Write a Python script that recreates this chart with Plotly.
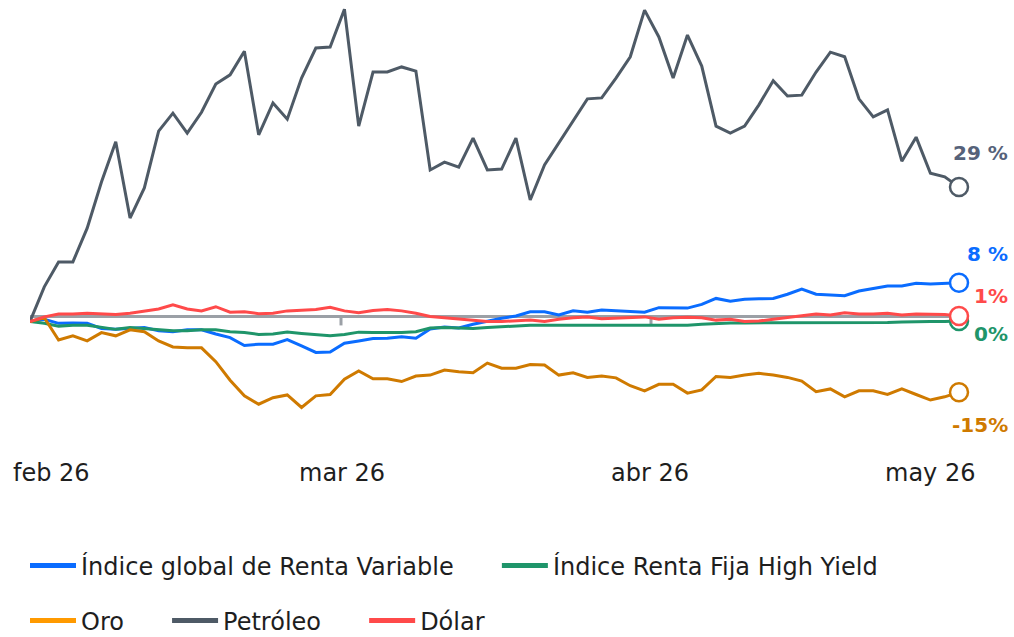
import pandas as pd
import plotly.graph_objects as go

# ---- data (percent change since start) ----
dates = [d.strftime("%Y-%m-%d") for d in pd.bdate_range("2026-01-30", "2026-05-01")]

renta_variable = [0, 0.5, -0.4, -0.3, -0.4, -1.5, -1.7, -1.5, -1.3, -2.0, -2.2, -1.8, -1.8, -2.7, -3.5,
                  -5.2, -4.9, -4.9, -3.9, -5.3, -6.7, -6.6, -4.7, -4.2, -3.7, -3.6, -3.3, -3.6, -1.6, -1.2,
                  -1.4, -0.6, 0.1, 0.7, 1.2, 2.1, 2.1, 1.4, 2.3, 2.0, 2.5, 2.3, 2.1, 2.0, 3.0, 2.9, 2.9,
                  3.7, 5.0, 4.4, 4.8, 4.9, 5.0, 5.9, 7.0, 5.9, 5.7, 5.6, 6.6, 7.2, 7.7, 7.7, 8.3, 8.1,
                  8.3, 8.4]
renta_fija_hy = [0, -0.4, -1.0, -0.8, -0.8, -1.3, -1.7, -1.3, -1.5, -1.8, -2.0, -2.0, -1.8, -1.8, -2.2,
                 -2.4, -2.8, -2.7, -2.3, -2.6, -2.9, -3.1, -2.8, -2.3, -2.4, -2.4, -2.4, -2.2, -1.4, -1.3,
                 -1.4, -1.5, -1.3, -1.1, -1.0, -0.8, -0.8, -0.8, -0.8, -0.8, -0.8, -0.8, -0.8, -0.8, -0.9,
                 -0.8, -0.8, -0.6, -0.4, -0.3, -0.3, -0.3, -0.3, -0.3, -0.3, -0.3, -0.3, -0.3, -0.3, -0.3,
                 -0.2, -0.1, 0.0, 0.0, 0.0, 0.1]
oro = [0, 0.8, -4.0, -3.1, -4.2, -2.4, -3.1, -1.8, -2.2, -4.2, -5.5, -5.7, -5.7, -8.7, -12.7, -16.1,
       -17.9, -16.5, -15.9, -18.6, -16.1, -15.8, -12.5, -10.7, -12.4, -12.4, -13.0, -11.8, -11.6, -10.5,
       -10.9, -11.1, -9.0, -10.1, -10.1, -9.3, -9.4, -11.6, -11.1, -12.1, -11.8, -12.2, -13.9, -15.0,
       -13.6, -13.6, -15.5, -14.8, -11.9, -12.1, -11.6, -11.2, -11.6, -12.1, -12.9, -15.2, -14.6, -16.3,
       -15.0, -15.0, -15.8, -14.6, -15.8, -17.0, -16.3, -15.3]
petroleo = [0, 7.5, 12.9, 12.9, 20.2, 30.2, 38.9, 22.4, 28.9, 41.2, 45.1, 40.8, 45.3, 51.4, 53.4, 58.5,
            40.4, 47.3, 43.8, 52.7, 59.2, 59.4, 67.6, 42.3, 54.0, 54.0, 55.1, 54.2, 32.8, 34.5, 33.4, 39.7,
            32.8, 33.0, 39.7, 26.3, 33.9, 38.6, 43.4, 48.2, 48.4, 52.7, 57.3, 67.4, 61.6, 52.7, 62.0, 55.3,
            42.3, 40.8, 42.3, 46.9, 52.1, 48.8, 49.0, 54.0, 58.3, 57.3, 48.2, 44.3, 45.8, 34.7, 39.9, 32.1,
            31.3, 29.1]
dolar = [0, 1.0, 1.6, 1.6, 1.8, 1.6, 1.5, 1.8, 2.3, 2.7, 3.6, 2.7, 2.3, 3.2, 2.0, 2.1, 1.7, 1.8, 2.3,
         2.5, 2.6, 3.1, 2.3, 1.9, 2.4, 2.6, 2.3, 1.8, 1.1, 0.8, 0.5, 0.2, 0.0, 0.0, 0.1, 0.3, 0.0, 0.5,
         0.8, 1.0, 0.6, 0.7, 0.8, 1.0, 0.5, 0.8, 0.9, 0.8, 0.3, 0.5, 0.0, 0.1, 0.5, 0.9, 1.3, 1.6, 1.4,
         1.9, 1.6, 1.6, 1.8, 1.4, 1.6, 1.6, 1.5, 1.2]

series_names = ["Índice global de Renta Variable", "Índice Renta Fija High Yield", "Oro", "Petróleo", "Dólar"]
series_values = [renta_variable, renta_fija_hy, oro, petroleo, dolar]
end_labels = ["8 %", "0%", "-15%", "29 %", "1%"]

month_labels = ["feb 26", "mar 26", "abr 26", "may 26"]

# ---- styling ----
line_colors = ["#0A6CFF", "#1F956A", "#CF7A00", "#4E5A66", "#FF4A4A"]
legend_colors = ["#0A6CFF", "#1F956A", "#FF9A00", "#4E5A66", "#FF4A4A"]
label_colors = ["#0A6CFF", "#1F956A", "#CF7A00", "#56627A", "#FF4A4A"]
label_yshift = [29, -13, -33, 34, 20]
legend_ids = ["legend", "legend", "legend2", "legend2", "legend2"]
legend_pad = [5, 0, 5, 5, 0]          # trailing spacing (non-breaking spaces) between legend items
month_pos = [1.47, 21.8, 43.4, 63.0]
tick_pos = [21.76, 43.45]
baseline_value = 1.1

FONT = "DejaVu Sans"

fig = go.Figure()

for name, vals, lc in zip(series_names, series_values, line_colors):
    fig.add_trace(go.Scatter(x=dates, y=vals, mode="lines", name=name, showlegend=False,
                             line=dict(color=lc, width=3), hoverinfo="skip"))

for name, vals, lc in zip(series_names, series_values, line_colors):
    fig.add_trace(go.Scatter(x=[dates[-1]], y=[vals[-1]], mode="markers", showlegend=False,
                             cliponaxis=False, hoverinfo="skip",
                             marker=dict(size=18, color="white", line=dict(color=lc, width=2.5))))

# legend-only entries
for name, col, lg, pad in zip(series_names, legend_colors, legend_ids, legend_pad):
    fig.add_trace(go.Scatter(x=[None], y=[None], mode="lines", name=name + "\u00a0" * pad, legend=lg,
                             line=dict(color=col, width=5)))

# baseline + tick marks
fig.add_shape(type="line", xref="x", yref="y", x0=0, x1=len(dates) - 1,
              y0=baseline_value, y1=baseline_value, line=dict(color="#9BA0A6", width=3), layer="below")
for tp in tick_pos:
    fig.add_shape(type="line", xref="x", yref="y", ysizemode="pixel", yanchor=baseline_value,
                  x0=tp, x1=tp, y0=0, y1=-9, line=dict(color="#9BA0A6", width=3), layer="below")

# end labels
for vals, txt, col, ys in zip(series_values, end_labels, label_colors, label_yshift):
    fig.add_annotation(x=len(dates) - 1, y=vals[-1], text=txt, showarrow=False,
                       xanchor="right", yanchor="middle", xshift=51, yshift=ys,
                       font=dict(family=FONT, size=20, color=col, weight=700))

# month labels
for pos, txt in zip(month_pos, month_labels):
    fig.add_annotation(x=pos, y=0, yref="paper", text=txt, showarrow=False,
                       xanchor="center", yanchor="middle", yshift=-53,
                       font=dict(family=FONT, size=24, color="#1E1E1E"))

legend_font = dict(family=FONT, size=24, color="#1E1E1E")
fig.update_layout(
    width=1014, height=637,
    margin=dict(l=30, r=55, t=5, b=217),
    paper_bgcolor="white", plot_bgcolor="white",
    xaxis=dict(type="category", range=[0, len(dates) - 1], showgrid=False, zeroline=False,
               showline=False, showticklabels=False, ticks=""),
    yaxis=dict(range=[-21.32, 68.51], showgrid=False, zeroline=False, showline=False,
               showticklabels=False, ticks=""),
    legend=dict(orientation="h", xref="container", yref="container", x=25 / 1014, y=1 - 566 / 637,
                xanchor="left", yanchor="middle", font=legend_font, bgcolor="rgba(0,0,0,0)",
                itemwidth=46),
    legend2=dict(orientation="h", xref="container", yref="container", x=25 / 1014, y=1 - 621 / 637,
                 xanchor="left", yanchor="middle", font=legend_font, bgcolor="rgba(0,0,0,0)",
                 itemwidth=46),
    hovermode=False,
)

fig.write_html("out.html", config={"displayModeBar": False},
               post_script="document.body.style.margin='0';document.body.style.overflow='hidden';")
